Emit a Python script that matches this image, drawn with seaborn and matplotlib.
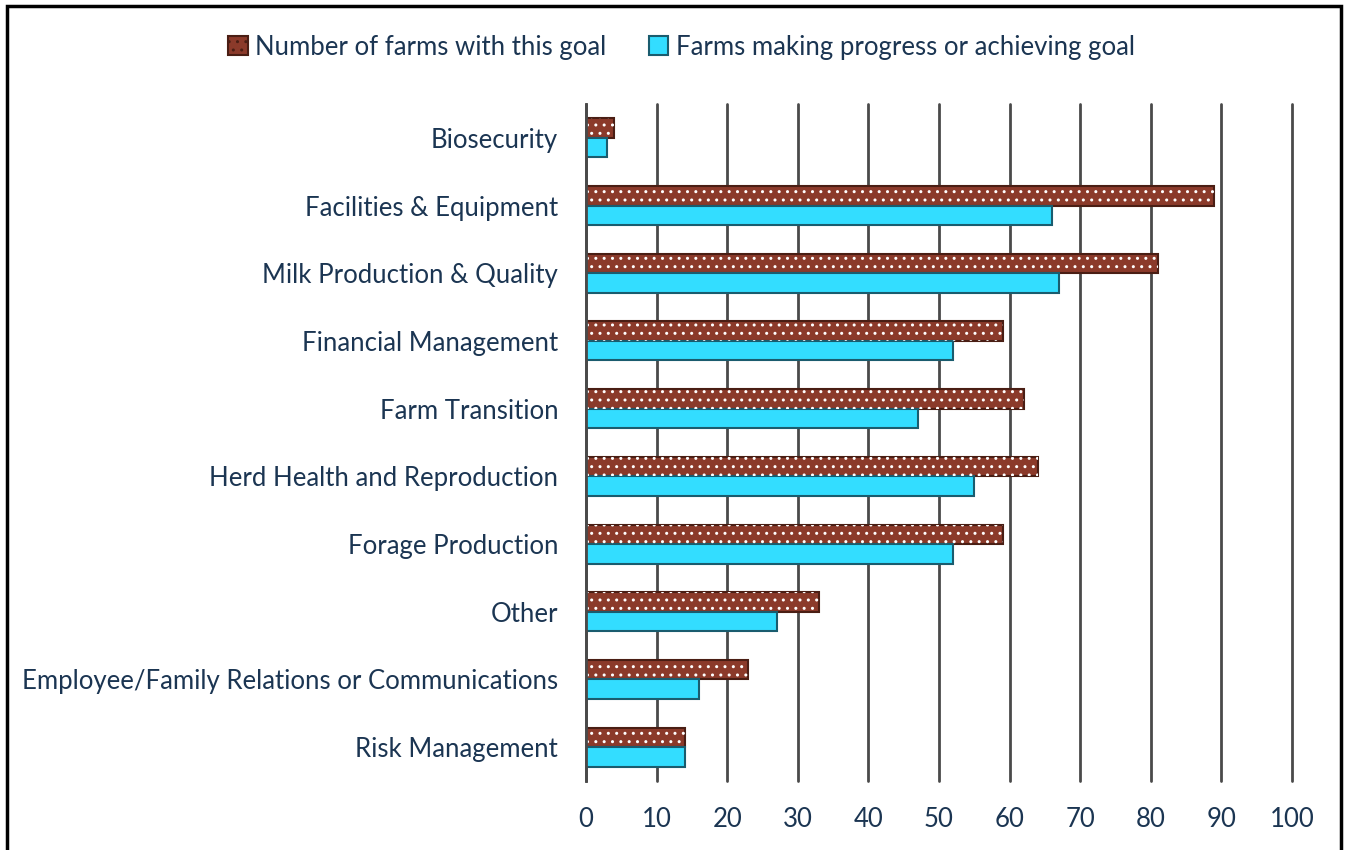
import matplotlib
matplotlib.use("Agg")
import matplotlib.pyplot as plt
import seaborn as sns
import pandas as pd
import numpy as np
from matplotlib.patches import Rectangle

categories = ["Biosecurity", "Facilities & Equipment", "Milk Production & Quality",
              "Financial Management", "Farm Transition", "Herd Health and Reproduction",
              "Forage Production", "Other", "Employee/Family Relations or Communications",
              "Risk Management"]
goal_counts = [4, 89, 81, 59, 62, 64, 59, 33, 23, 14]
progress_counts = [3, 66, 67, 52, 47, 55, 52, 27, 16, 14]
series_names = ["Number of farms with this goal", "Farms making progress or achieving goal"]
x_ticks = [0, 10, 20, 30, 40, 50, 60, 70, 80, 90, 100]

df = pd.DataFrame({
    "category": categories * 2,
    "value": goal_counts + progress_counts,
    "series": [series_names[0]] * len(categories) + [series_names[1]] * len(categories),
})

sns.set_theme(style="white")
plt.rcParams["font.family"] = ["Lato", "DejaVu Sans"]
TXT = "#1B3552"
BROWN = "#8B3A2A"
BROWN_EDGE = "#4A1E14"
CYAN = "#33DDFF"
CYAN_EDGE = "#1A5C6E"
GRID = "#4A4A4A"
FS = 18.5

fig = plt.figure(figsize=(13.47, 8.5), dpi=100)
ax = fig.add_axes([586/1347, 1-781/850, (1292-586)/1347, (781-104)/850])

sns.barplot(data=df, y="category", x="value", hue="series", hue_order=series_names,
            palette=[BROWN, CYAN], width=0.575, orient="h", ax=ax, legend=False,
            saturation=1, zorder=3)

n = len(categories)
for i, p in enumerate(ax.patches[:2*n]):
    if i < n:
        p.set_edgecolor(BROWN_EDGE)
        p.set_linewidth(1.5)
        ax.add_patch(Rectangle((p.get_x(), p.get_y()), p.get_width(), p.get_height(),
                               facecolor="none", edgecolor="white", hatch="..",
                               linewidth=0, zorder=4))
    else:
        p.set_edgecolor(CYAN_EDGE)
        p.set_linewidth(1.5)

ax.set_xlim(0, 100)
ax.set_ylim(n - 0.5, -0.5)
ax.set_xticks(x_ticks)
ax.set_xticklabels([str(t) for t in x_ticks], fontsize=FS, color=TXT)
ax.set_yticks(range(n))
ax.set_yticklabels(categories, fontsize=FS, color=TXT)
ax.set_yticks(np.arange(-0.5, n, 1.0), minor=True)
ax.tick_params(axis="y", which="major", length=0, pad=20)
ax.tick_params(axis="y", which="minor", length=9, width=2, color=GRID, direction="out")
ax.tick_params(axis="x", which="major", length=0, pad=19)
ax.set_xlabel("")
ax.set_ylabel("")
ax.grid(axis="x", color=GRID, linewidth=2, zorder=0)
for gl in ax.get_xgridlines():
    gl.set_clip_on(False)
ax.set_axisbelow(True)
for s in ["top", "right", "bottom"]:
    ax.spines[s].set_visible(False)
ax.spines["left"].set_color(GRID)
ax.spines["left"].set_linewidth(2)
ax.spines["left"].set_zorder(5)

plt.rcParams["hatch.color"] = "white"
handles = [Rectangle((0, 0), 1, 1, facecolor=BROWN, edgecolor=BROWN_EDGE, hatch="..", linewidth=1.5),
           Rectangle((0, 0), 1, 1, facecolor=CYAN, edgecolor=CYAN_EDGE, linewidth=1.5)]
leg = fig.legend(handles, series_names, loc="center", bbox_to_anchor=(0.506, 1-47/850),
                 ncol=2, frameon=False, fontsize=FS, handlelength=0.75, handleheight=0.75,
                 handletextpad=0.3, columnspacing=1.65)
for t in leg.get_texts():
    t.set_color(TXT)

fig.add_artist(Rectangle((7/1347, -0.05), (1341-7)/1347, 1.05 - 6/850, transform=fig.transFigure,
                         facecolor="none", edgecolor="black", linewidth=2.5, clip_on=False))

fig.savefig("out.png", dpi=100)
